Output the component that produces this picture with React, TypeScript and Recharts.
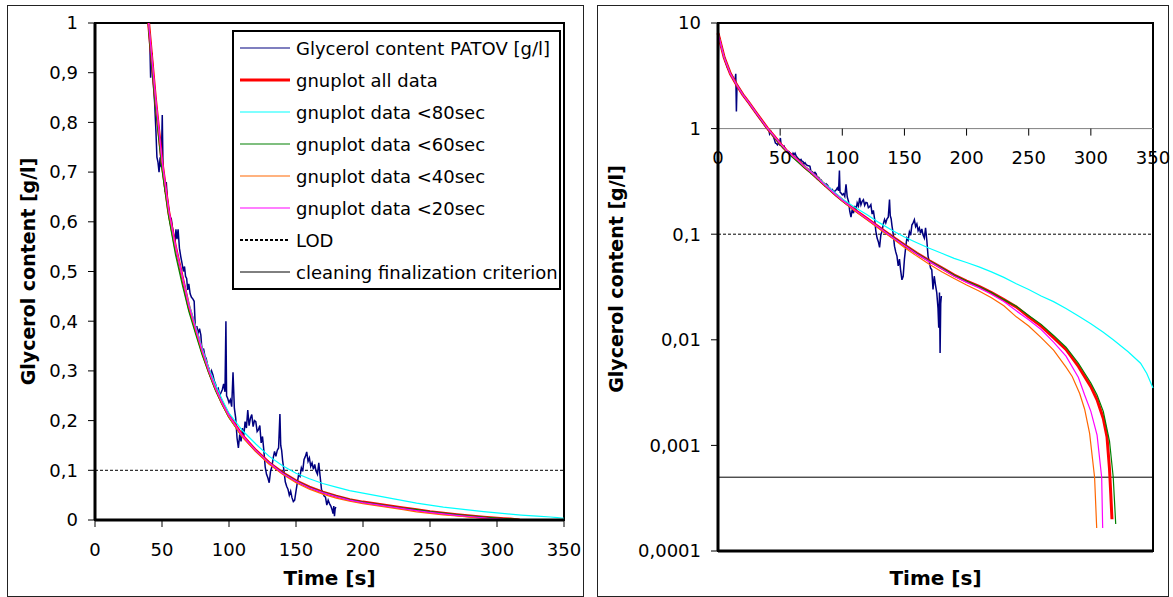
import { LineChart, Line, XAxis, YAxis, ReferenceLine, ReferenceArea, ReferenceDot, Legend } from 'recharts';

const FONT = '"DejaVu Sans", sans-serif';

const timeTicks = [0, 50, 100, 150, 200, 250, 300, 350];
const linearTicks = [0, 0.1, 0.2, 0.3, 0.4, 0.5, 0.6, 0.7, 0.8, 0.9, 1];
const logTicks = [0.0001, 0.001, 0.01, 0.1, 1, 10];
const lodLevel = 0.1;
const criterionLevel = 0.0005;

// measured signal (PATOV)
const patovTime = [
    0, 0.5, 1.5, 3, 4.5, 6, 7.5, 9, 10.5, 12, 13.5, 14.3, 14.8, 15.3, 16.5, 18, 19.5, 21, 22.5, 24,
    25.5, 27, 28.5, 30, 31.5, 33, 34.5, 36, 37.5, 39, 40, 41, 41.5, 42.5, 43.5, 44.5, 45.5, 46.2, 47, 47.8,
    48.6, 49.4, 50.2, 50.8, 51.6, 52.4, 53.2, 54, 55, 56, 57, 58, 58.8, 59.6, 60.4, 61.2, 62, 63, 64, 65,
    66, 66.8, 67.6, 68.4, 69.2, 70, 71, 72, 73, 74, 75, 76, 77, 78, 79, 80, 81, 82, 83, 84,
    85, 86, 87, 88, 89, 90, 91, 92, 93, 94, 95, 96, 97, 97.7, 98.2, 99, 100, 101, 102, 103,
    104, 105, 106, 107, 108, 109, 110, 111, 112, 113, 114, 115, 116, 117, 118, 119, 120, 121, 122, 123,
    124, 125, 126, 127, 128, 129, 130, 131, 132, 133, 134, 135, 136, 137, 138, 138.6, 139.3, 140, 141, 142,
    143, 144, 145, 146, 147, 148, 149, 150, 151, 152, 153, 154, 155, 156, 157, 158, 159, 160, 161, 162,
    163, 164, 165, 166, 167, 168, 169, 170, 171, 172, 173, 174, 175, 176, 177, 177.6, 178.2, 178.7, 179.2, 179.7,
];
const patovValue = [
    2.9, 7.8, 7.0, 5.8, 5.0, 4.3, 3.8, 3.5, 3.3, 3.05, 2.8, 3.3, 1.45, 2.55, 2.45, 2.3, 2.15, 2.0, 1.9, 1.8,
    1.7, 1.6, 1.52, 1.44, 1.36, 1.27, 1.22, 1.14, 1.08, 1.03, 1.0, 0.95, 0.89, 0.94, 0.88, 0.84, 0.78, 0.73, 0.72, 0.7,
    0.73, 0.71, 0.815, 0.7, 0.68, 0.66, 0.68, 0.645, 0.625, 0.6, 0.605, 0.584, 0.57, 0.554, 0.585, 0.565, 0.585, 0.547, 0.53, 0.516,
    0.5, 0.51, 0.49, 0.486, 0.463, 0.475, 0.455, 0.448, 0.445, 0.44, 0.38, 0.39, 0.375, 0.385, 0.372, 0.335, 0.345, 0.33, 0.325, 0.31,
    0.305, 0.289, 0.3, 0.292, 0.28, 0.273, 0.262, 0.265, 0.25, 0.256, 0.262, 0.274, 0.258, 0.4, 0.25, 0.245, 0.236, 0.242, 0.228, 0.297,
    0.225, 0.205, 0.165, 0.145, 0.172, 0.158, 0.185, 0.168, 0.198, 0.185, 0.221, 0.19, 0.205, 0.212, 0.188, 0.2, 0.198, 0.178, 0.182, 0.19,
    0.155, 0.168, 0.14, 0.107, 0.092, 0.085, 0.075, 0.098, 0.107, 0.125, 0.138, 0.128, 0.14, 0.145, 0.213, 0.15, 0.14, 0.12, 0.1, 0.077,
    0.068, 0.062, 0.05, 0.058, 0.045, 0.037, 0.04, 0.058, 0.075, 0.092, 0.088, 0.105, 0.098, 0.122, 0.128, 0.137, 0.118, 0.125, 0.108, 0.115,
    0.102, 0.112, 0.098, 0.092, 0.115, 0.088, 0.062, 0.055, 0.048, 0.046, 0.03, 0.04, 0.033, 0.028, 0.02, 0.013, 0.028, 0.0075, 0.022, 0.026,
];

// gnuplot fit, all data
const fitAllTime = [0, 5, 10, 15, 20, 25, 30, 35, 40, 45, 50, 55, 60, 65, 70, 75, 80, 85, 90, 95, 100, 110, 120, 130, 140, 150, 160, 170, 180, 190, 200, 210, 220, 230, 240, 250, 260, 270, 280, 290, 300, 305, 310, 313, 315, 316, 317];
const fitAllValue = [8.0, 4.7, 3.3, 2.6, 2.1, 1.75, 1.45, 1.2, 1.0, 0.85, 0.72, 0.62, 0.55, 0.49, 0.43, 0.385, 0.34, 0.3, 0.265, 0.235, 0.21, 0.17, 0.14, 0.115, 0.095, 0.079, 0.066, 0.056, 0.048, 0.041, 0.036, 0.032, 0.028, 0.024, 0.0205, 0.0165, 0.0135, 0.0105, 0.0081, 0.0056, 0.0036, 0.0027, 0.0018, 0.0012, 0.0006, 0.00035, 0.0002];

// gnuplot fit, data < 80 s
const fit80Time = [0, 5, 10, 15, 20, 25, 30, 35, 40, 45, 50, 55, 60, 65, 70, 75, 80, 85, 90, 95, 100, 110, 120, 130, 140, 150, 160, 170, 180, 190, 200, 210, 220, 230, 240, 250, 260, 270, 280, 290, 300, 310, 318, 330, 340, 345, 350];
const fit80Value = [8.0, 4.7, 3.3, 2.6, 2.1, 1.75, 1.45, 1.2, 1.0, 0.85, 0.72, 0.62, 0.55, 0.49, 0.435, 0.39, 0.345, 0.305, 0.272, 0.242, 0.215, 0.18, 0.153, 0.128, 0.109, 0.094, 0.083, 0.0735, 0.066, 0.059, 0.054, 0.049, 0.044, 0.039, 0.034, 0.03, 0.026, 0.023, 0.0198, 0.0168, 0.0142, 0.0118, 0.01, 0.0077, 0.006, 0.0048, 0.0035];

// gnuplot fit, data < 60 s
const fit60Time = [0, 5, 10, 15, 20, 25, 30, 35, 40, 45, 50, 55, 60, 65, 70, 75, 80, 85, 90, 95, 100, 110, 120, 130, 140, 150, 160, 170, 180, 190, 200, 210, 220, 230, 240, 250, 260, 270, 280, 290, 300, 305, 310, 315, 318, 319, 320];
const fit60Value = [8.0, 4.7, 3.3, 2.6, 2.1, 1.74, 1.44, 1.19, 0.99, 0.835, 0.705, 0.61, 0.535, 0.475, 0.42, 0.375, 0.332, 0.295, 0.26, 0.232, 0.206, 0.168, 0.139, 0.115, 0.095, 0.079, 0.066, 0.056, 0.048, 0.041, 0.036, 0.032, 0.028, 0.024, 0.0208, 0.017, 0.014, 0.011, 0.0085, 0.006, 0.0039, 0.003, 0.0021, 0.0011, 0.0005, 0.0003, 0.00018];

// gnuplot fit, data < 40 s
const fit40Time = [0, 5, 10, 15, 20, 25, 30, 35, 40, 45, 50, 55, 60, 65, 70, 75, 80, 85, 90, 95, 100, 110, 120, 130, 140, 150, 160, 170, 180, 190, 200, 210, 220, 230, 240, 250, 260, 270, 280, 285, 291, 295, 299, 303, 304.7];
const fit40Value = [8.0, 4.7, 3.3, 2.6, 2.1, 1.75, 1.45, 1.2, 1.0, 0.85, 0.72, 0.62, 0.55, 0.49, 0.43, 0.383, 0.338, 0.298, 0.263, 0.233, 0.207, 0.167, 0.138, 0.112, 0.092, 0.075, 0.062, 0.052, 0.044, 0.038, 0.033, 0.029, 0.025, 0.021, 0.0165, 0.0135, 0.0105, 0.008, 0.0055, 0.0045, 0.0031, 0.0022, 0.0013, 0.0005, 0.000165];

// gnuplot fit, data < 20 s
const fit20Time = [0, 5, 10, 15, 20, 25, 30, 35, 40, 45, 50, 55, 60, 65, 70, 75, 80, 85, 90, 95, 100, 110, 120, 130, 140, 150, 160, 170, 180, 190, 200, 210, 220, 230, 240, 250, 260, 270, 280, 290, 295, 300, 305, 308.7, 309.5];
const fit20Value = [8.0, 4.7, 3.3, 2.6, 2.1, 1.75, 1.45, 1.2, 1.0, 0.855, 0.725, 0.625, 0.553, 0.492, 0.432, 0.386, 0.341, 0.3, 0.265, 0.235, 0.21, 0.17, 0.14, 0.115, 0.094, 0.078, 0.065, 0.055, 0.047, 0.04, 0.035, 0.031, 0.027, 0.023, 0.0188, 0.0155, 0.0125, 0.0095, 0.007, 0.0044, 0.003, 0.0021, 0.00125, 0.0005, 0.000165];

const toRows = (ts: number[], vs: number[]) => ts.map((t, i) => ({ t, v: vs[i] }));

const series = [
    { key: 'patov', name: 'Glycerol content PATOV [g/l]', color: '#000080', width: 1.5, data: toRows(patovTime, patovValue) },
    { key: 'all', name: 'gnuplot all data', color: '#FF0000', width: 3, data: toRows(fitAllTime, fitAllValue) },
    { key: 'f80', name: 'gnuplot data <80sec', color: '#00FFFF', width: 1.2, data: toRows(fit80Time, fit80Value) },
    { key: 'f60', name: 'gnuplot data <60sec', color: '#008000', width: 1.2, data: toRows(fit60Time, fit60Value) },
    { key: 'f40', name: 'gnuplot data <40sec', color: '#FF6600', width: 1.2, data: toRows(fit40Time, fit40Value) },
    { key: 'f20', name: 'gnuplot data <20sec', color: '#FF00FF', width: 1.2, data: toRows(fit20Time, fit20Value) },
];

const legendItems = [
    ...series.map(s => ({ label: s.name, color: s.color, width: s.key === 'all' ? 3 : 1.2, dash: undefined as string | undefined })),
    { label: 'LOD', color: '#000', width: 2, dash: '3 2' },
    { label: 'cleaning finalization criterion', color: '#000', width: 1, dash: undefined },
];

const fmt = (v: number) => String(v).replace('.', ',');

const tickStyle = { fill: '#000', fontSize: 18, fontFamily: FONT };

function LegendBox() {
    return (
        <div style={{ border: '2px solid #000', background: '#fff', width: 329, boxSizing: 'border-box', fontFamily: FONT, fontSize: 18, color: '#000' }}>
            {legendItems.map(item => (
                <div key={item.label} style={{ height: 32, display: 'flex', alignItems: 'center', whiteSpace: 'nowrap' }}>
                    <svg width={62} height={32} style={{ flex: 'none' }}>
                        <line x1={6} x2={56} y1={16} y2={16} stroke={item.color} strokeWidth={item.width} strokeDasharray={item.dash} />
                    </svg>
                    <span>{item.label}</span>
                </div>
            ))}
        </div>
    );
}

function xTitle(offset: number) {
    return (p: any) => {
        const vb = p.viewBox;
        return (
            <text x={vb.x + vb.width / 2} y={vb.y + offset} textAnchor="middle" dominantBaseline="central"
                style={{ fontFamily: FONT, fontSize: 20, fontWeight: 700, fill: '#000' }}>Time [s]</text>
        );
    };
}

function yTitle(cxOffset: number, cyShift: number) {
    return (p: any) => {
        const vb = p.viewBox;
        const cx = vb.x + cxOffset;
        const cy = vb.y + vb.height / 2 + cyShift;
        return (
            <text x={cx} y={cy} transform={`rotate(-90, ${cx}, ${cy})`} textAnchor="middle" dominantBaseline="central"
                style={{ fontFamily: FONT, fontSize: 19, fontWeight: 700, fill: '#000' }}>Glycerol content [g/l]</text>
        );
    };
}

// x-axis ticks of the log chart sit on the y = 1 line
function crossTick(value: number) {
    return (p: any) => (
        <g>
            <line x1={p.cx} x2={p.cx} y1={p.cy} y2={p.cy + 7} stroke="#000" strokeWidth={1} />
            <text x={p.cx} y={p.cy + 23} dy="0.71em" textAnchor="middle" style={tickStyle}>{value}</text>
        </g>
    );
}

function seriesLines() {
    return series.map(s => (
        <Line key={s.key} data={s.data} dataKey="v" type="linear" stroke={s.color} strokeWidth={s.width}
            dot={false} activeDot={false} isAnimationActive={false} legendType="none" />
    ));
}

export default function App() {
    return (
        <div style={{ position: 'absolute', left: 0, top: 0, width: 1173, height: 597, background: '#fff' }}>
            <div style={{ position: 'absolute', left: 7, top: 5, width: 577, height: 592, border: '1px solid #222', boxSizing: 'border-box' }} />
            <div style={{ position: 'absolute', left: 597, top: 5, width: 572, height: 592, border: '1px solid #222', boxSizing: 'border-box' }} />

            <div style={{ position: 'absolute', left: 0, top: 0 }}>
                <LineChart width={590} height={597} margin={{ top: 23, right: 26, left: 0, bottom: 0 }}>
                    <XAxis type="number" dataKey="t" domain={[0, 350]} ticks={timeTicks} allowDataOverflow height={77}
                        tickSize={7} tickMargin={16} tick={tickStyle}
                        axisLine={{ stroke: '#000', strokeWidth: 3 }} tickLine={{ stroke: '#000', strokeWidth: 1 }}
                        label={{ content: xTitle(58) }} />
                    <YAxis type="number" domain={[0, 1]} ticks={linearTicks} allowDataOverflow width={95}
                        tickSize={7} tickMargin={10} tick={tickStyle} tickFormatter={fmt}
                        axisLine={{ stroke: '#000', strokeWidth: 3 }} tickLine={{ stroke: '#000', strokeWidth: 1 }}
                        label={{ content: yTitle(28, 0) }} />
                    <ReferenceArea x1={0} x2={350} y1={0} y2={1} fill="none" stroke="#000" strokeWidth={2} />
                    <ReferenceLine y={criterionLevel} stroke="#000" strokeWidth={1} />
                    <ReferenceLine y={lodLevel} stroke="#000" strokeWidth={1} strokeDasharray="3 2" />
                    {seriesLines()}
                    <Legend layout="vertical" align="center" verticalAlign="middle" content={() => <LegendBox />}
                        wrapperStyle={{ left: 232, top: 30, width: 329 }} />
                </LineChart>
            </div>

            <div style={{ position: 'absolute', left: 590, top: 0 }}>
                <LineChart width={583} height={597} margin={{ top: 23, right: 20, left: 0, bottom: 0 }}>
                    <XAxis type="number" dataKey="t" domain={[0, 350]} ticks={timeTicks} height={46}
                        tick={false} tickLine={false} axisLine={{ stroke: '#000', strokeWidth: 3 }}
                        label={{ content: xTitle(27) }} />
                    <YAxis type="number" scale="log" domain={[0.0001, 10]} ticks={logTicks} allowDataOverflow width={128}
                        tickSize={7} tickMargin={10} tick={tickStyle} tickFormatter={fmt}
                        axisLine={{ stroke: '#000', strokeWidth: 3 }} tickLine={{ stroke: '#000', strokeWidth: 1 }}
                        label={{ content: yTitle(26, -8) }} />
                    <ReferenceArea x1={0} x2={350} y1={0.0001} y2={10} fill="none" stroke="#000" strokeWidth={2} />
                    <ReferenceLine y={1} stroke="#808080" strokeWidth={1} />
                    {timeTicks.map(t => (
                        <ReferenceDot key={t} x={t} y={1} r={0} shape={crossTick(t)} />
                    ))}
                    <ReferenceLine y={criterionLevel} stroke="#000" strokeWidth={1} />
                    <ReferenceLine y={lodLevel} stroke="#000" strokeWidth={1} strokeDasharray="3 2" />
                    {seriesLines()}
                </LineChart>
            </div>
        </div>
    );
}
